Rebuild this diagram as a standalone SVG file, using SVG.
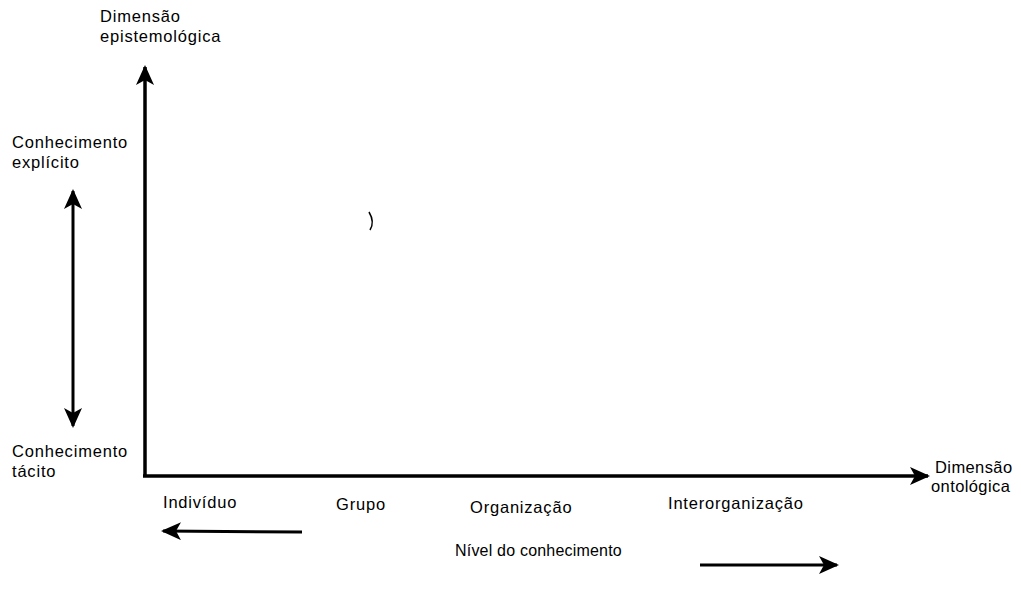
<svg xmlns="http://www.w3.org/2000/svg" width="1021" height="589" viewBox="0 0 1021 589">
<style>
  text { font-family: "Liberation Sans", Arial, sans-serif; font-size: 16.5px; fill: #000; letter-spacing: 0.8px; }
  text.tight { letter-spacing: 0.2px; font-size: 16px; }
  .ax { stroke: #000; stroke-width: 3.5; fill: none; }
  .ar { stroke: #000; stroke-width: 3; fill: none; }
</style>
<defs>
  <marker id="head" viewBox="0 0 20 18" refX="18" refY="9" markerWidth="20" markerHeight="18" markerUnits="userSpaceOnUse" orient="auto-start-reverse">
    <path d="M0,0 L20,9 L0,18 L5,9 Z" fill="#000"/>
  </marker>
</defs>
<rect width="1021" height="589" fill="#fff"/>

<g id="connectors">
  <path id="axis-y" class="ax" d="M145,477 L145,67" marker-end="url(#head)"/>
  <path id="axis-x" class="ax" d="M143,476 L928,476" marker-end="url(#head)"/>
  <path id="double-arrow" class="ar" d="M73,191 L73,426" marker-start="url(#head)" marker-end="url(#head)"/>
  <path id="arrow-left" class="ar" d="M302,532 L163,531" marker-end="url(#head)"/>
  <path id="arrow-right" class="ar" d="M700,565 L837,565" marker-end="url(#head)"/>
</g>

<g id="label-epistemologica">
  <text x="100" y="22">Dimensão</text>
  <text x="100" y="42">epistemológica</text>
</g>
<g id="label-explicito">
  <text x="12" y="148">Conhecimento</text>
  <text x="12" y="168">explícito</text>
</g>
<g id="label-tacito">
  <text x="12" y="457">Conhecimento</text>
  <text x="12" y="477">tácito</text>
</g>
<g id="label-ontologica">
  <text x="935" y="473" style="letter-spacing:0.4px">Dimensão</text>
  <text x="931" y="492" style="letter-spacing:0.4px">ontológica</text>
</g>
<g id="level-individuo"><text x="163" y="508">Indivíduo</text></g>
<g id="level-grupo"><text x="336" y="510">Grupo</text></g>
<g id="level-organizacao"><text x="470" y="513">Organização</text></g>
<g id="level-interorganizacao"><text x="668" y="509">Interorganização</text></g>
<g id="label-nivel"><text class="tight" x="455" y="556">Nível do conhecimento</text></g>

<path d="M369,212 Q375,222 370,230" stroke="#000" stroke-width="1.5" fill="none"/>
</svg>
